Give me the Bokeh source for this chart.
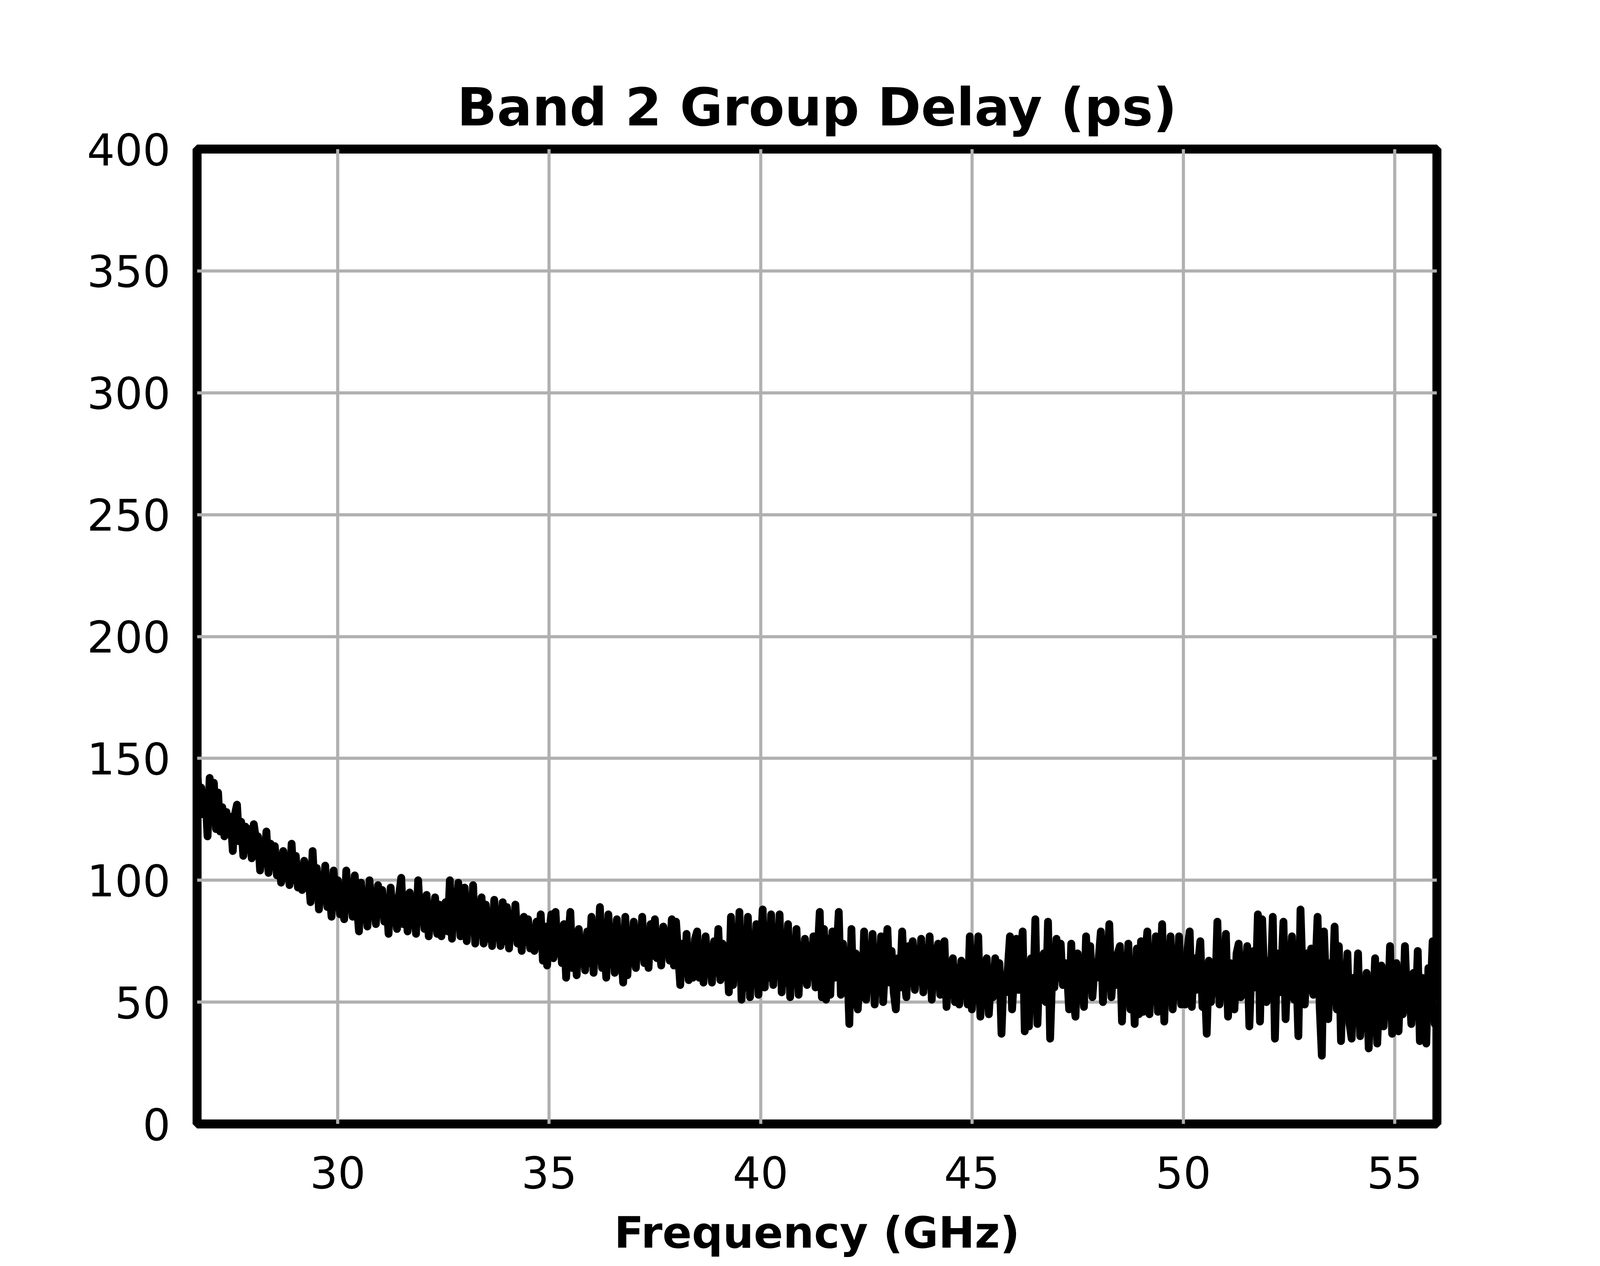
import numpy as np
from bokeh.plotting import figure
from bokeh.models import Range1d, FixedTicker
from bokeh.embed import file_html
from bokeh.resources import INLINE

# Segment edges (GHz); each segment's samples are evenly spaced inside it
F_EDGES = [26.67, 30.0, 35.0, 40.0, 45.0, 50.0, 56.0]

delay_26_30 = [
    147, 131, 138, 127, 134, 118, 142,
    124, 140, 121, 136, 120, 130, 118, 128, 119, 126,
    112, 127, 131, 116, 124, 110, 122, 113, 121, 109,
    123, 117, 118, 104, 116, 107, 120, 103, 115, 108,
    114, 102, 110, 99, 112, 101, 108, 98, 115, 100,
    110, 97, 105, 96, 108, 99, 103, 91, 112, 95,
    105, 88, 99, 92, 106, 89, 97, 85, 104, 90,
]
delay_30_35 = [
    100, 86, 95, 84, 104, 88, 97, 85, 102, 90,
    79, 99, 84, 95, 81, 100, 86, 93, 82, 98,
    88, 96, 83, 92, 78, 97, 85, 90, 80, 94,
    101, 82, 93, 79, 95, 84, 89, 78, 100, 83,
    92, 80, 94, 77, 88, 83, 93, 78, 90, 77,
    86, 91, 79, 100, 76, 95, 82, 99, 77, 89,
    97, 75, 92, 80, 98, 74, 88, 79, 93, 74,
    90, 76, 86, 73, 92, 79, 84, 73, 91, 75,
    89, 72, 86, 78, 90, 74, 83, 71, 85, 76,
    84, 72, 80, 71, 83, 75, 86, 67, 81, 65,
]
delay_35_40 = [
    78, 86, 68, 87, 70, 80, 66, 82, 60, 75,
    87, 64, 77, 61, 80, 69, 76, 63, 79, 66,
    85, 62, 79, 68, 89, 64, 74, 60, 86, 67,
    80, 62, 84, 65, 71, 58, 85, 61, 78, 66,
    83, 64, 79, 70, 85, 66, 77, 64, 82, 69,
    84, 68, 76, 65, 81, 72, 78, 67, 84, 65,
    83, 70, 57, 74, 62, 78, 59, 72, 60, 76,
    79, 60, 73, 58, 77, 64, 70, 58, 75, 62,
    80, 59, 74, 63, 71, 54, 85, 57, 78, 61,
    87, 51, 76, 56, 85, 52, 72, 59, 82, 53,
]
delay_40_45 = [
    69, 88, 56, 81, 60, 86, 57, 77, 62, 86,
    54, 78, 58, 82, 52, 74, 61, 80, 53, 72,
    59, 76, 57, 73, 62, 77, 56, 70, 87, 52,
    80, 51, 76, 53, 79, 60, 71, 87, 53, 74,
    58, 66, 41, 80, 49, 70, 47, 64, 52, 79,
    51, 72, 56, 78, 49, 69, 55, 77, 50, 67,
    80, 58, 71, 54, 47, 68, 56, 79, 60, 52,
    73, 58, 75, 55, 68, 61, 76, 54, 70, 57,
    77, 51, 72, 59, 74, 53, 69, 75, 48, 66,
    56, 68, 50, 64, 49, 67, 55, 62, 49, 77,
]
delay_45_50 = [
    47, 65, 54, 77, 44, 62, 56, 68, 45, 60,
    52, 68, 55, 66, 37, 61, 54, 64, 77, 47,
    62, 76, 55, 68, 79, 38, 63, 40, 68, 52,
    84, 41, 66, 58, 70, 50, 83, 35, 62, 56,
    76, 60, 74, 57, 66, 62, 47, 74, 51, 44,
    70, 56, 67, 48, 77, 58, 73, 52, 64, 60,
    68, 79, 50, 72, 60, 82, 52, 66, 57, 70,
    73, 42, 68, 56, 74, 47, 64, 41, 72, 45,
    75, 46, 69, 79, 45, 66, 56, 77, 46, 62,
    82, 42, 70, 58, 77, 47, 65, 55, 77, 49,
]
delay_50_56 = [
    63, 49, 72, 79, 48, 68, 55, 66, 75, 48,
    60, 37, 67, 50, 62, 54, 83, 49, 64, 58,
    78, 44, 66, 55, 47, 70, 74, 52, 63, 57,
    73, 40, 64, 71, 56, 86, 42, 84, 60, 50,
    67, 56, 85, 35, 70, 54, 62, 83, 43, 66,
    58, 77, 51, 64, 36, 88, 60, 49, 70, 55,
    72, 53, 63, 85, 48, 28, 79, 57, 43, 66,
    55, 81, 47, 73, 34, 62, 50, 70, 41, 35,
    60, 48, 70, 36, 56, 44, 62, 31, 52, 45,
    68, 33, 55, 65, 40, 58, 46, 73, 37, 52,
    66, 38, 60, 45, 73, 50, 57, 41, 62, 44,
    71, 34, 60, 48, 33, 64, 52, 75, 41, 70,
]

x_ticks = [30, 35, 40, 45, 50, 55]
y_ticks = [0, 50, 100, 150, 200, 250, 300, 350, 400]

segments = [delay_26_30, delay_30_35, delay_35_40, delay_40_45, delay_45_50, delay_50_56]
freq = []
delay = []
for i, seg in enumerate(segments):
    lo, hi = F_EDGES[i], F_EDGES[i + 1]
    last = (i == len(segments) - 1)
    xs = np.linspace(lo, hi, len(seg)) if last else np.linspace(lo, hi, len(seg) + 1)[:-1]
    freq.extend(xs.tolist())
    delay.extend(seg)

FONT = "DejaVu Sans"

p = figure(width=4080, height=3224, output_backend="svg", toolbar_location=None,
           x_range=Range1d(F_EDGES[0], F_EDGES[-1]), y_range=Range1d(0, 400),
           min_border_left=504, min_border_right=402, min_border_top=381, min_border_bottom=348)

p.background_fill_color = "white"
p.border_fill_color = "white"
p.outline_line_color = "black"
p.outline_line_width = 23
p.outline_line_alpha = 1.0

p.title.text = "Band 2 Group Delay (ps)"
p.title.align = "center"
p.title.text_font = FONT
p.title.text_font_style = "bold"
p.title.text_font_size = "134px"
p.title.text_color = "black"
p.title.standoff = 58

p.line(freq, delay, line_color="black", line_width=20, line_join="round", line_cap="round")

p.xaxis.ticker = FixedTicker(ticks=x_ticks)
p.yaxis.ticker = FixedTicker(ticks=y_ticks)
p.xgrid.ticker = FixedTicker(ticks=x_ticks)
p.ygrid.ticker = FixedTicker(ticks=y_ticks)
p.grid.grid_line_color = "#b0b0b0"
p.grid.grid_line_width = 8

for ax in (p.xaxis[0], p.yaxis[0]):
    ax.axis_line_color = None
    ax.major_tick_line_color = None
    ax.minor_tick_line_color = None
    ax.major_tick_out = 0
    ax.major_tick_in = 0
    ax.minor_tick_out = 0
    ax.major_label_text_font = FONT
    ax.major_label_text_font_size = "112px"
    ax.major_label_text_color = "black"

p.yaxis.major_label_standoff = 68
p.xaxis.major_label_standoff = 82

p.xaxis.axis_label = "Frequency (GHz)"
p.xaxis.axis_label_text_font = FONT
p.xaxis.axis_label_text_font_style = "bold"
p.xaxis.axis_label_text_font_size = "111px"
p.xaxis.axis_label_text_color = "black"
p.xaxis.axis_label_standoff = 46

open("out.html", "w").write(file_html(p, INLINE))
